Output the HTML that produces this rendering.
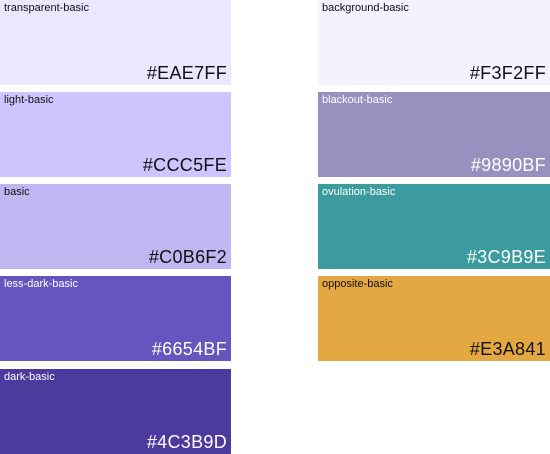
<!DOCTYPE html>
<html><head><style>
body{margin:0;width:550px;height:454px;background:#fff;position:relative;overflow:hidden;font-family:"Liberation Sans",sans-serif}
.s{position:absolute;width:231px;height:85px}
.l{position:absolute;left:4px;top:2px;font-size:11px}
.h{position:absolute;right:4px;bottom:1px;font-size:18px;letter-spacing:0.3px}
.d{color:#111}.w{color:#fff}
</style></head><body>
<div class="s d" style="left:0;top:0;background:#EAE7FF"><div class="l">transparent-basic</div><div class="h">#EAE7FF</div></div>
<div class="s d" style="left:0;top:92px;background:#CCC5FE"><div class="l">light-basic</div><div class="h">#CCC5FE</div></div>
<div class="s d" style="left:0;top:184px;background:#C0B6F2"><div class="l">basic</div><div class="h">#C0B6F2</div></div>
<div class="s w" style="left:0;top:276px;background:#6654BF"><div class="l">less-dark-basic</div><div class="h">#6654BF</div></div>
<div class="s w" style="left:0;top:369px;background:#4C3B9D"><div class="l">dark-basic</div><div class="h">#4C3B9D</div></div>
<div class="s d" style="left:318px;width:232px;top:0;background:#F3F2FF"><div class="l">background-basic</div><div class="h">#F3F2FF</div></div>
<div class="s w" style="left:318px;width:232px;top:92px;background:#9890BF"><div class="l">blackout-basic</div><div class="h">#9890BF</div></div>
<div class="s w" style="left:318px;width:232px;top:184px;background:#3C9B9E"><div class="l">ovulation-basic</div><div class="h">#3C9B9E</div></div>
<div class="s d" style="left:318px;width:232px;top:276px;background:#E3A841"><div class="l">opposite-basic</div><div class="h">#E3A841</div></div>
</body></html>
